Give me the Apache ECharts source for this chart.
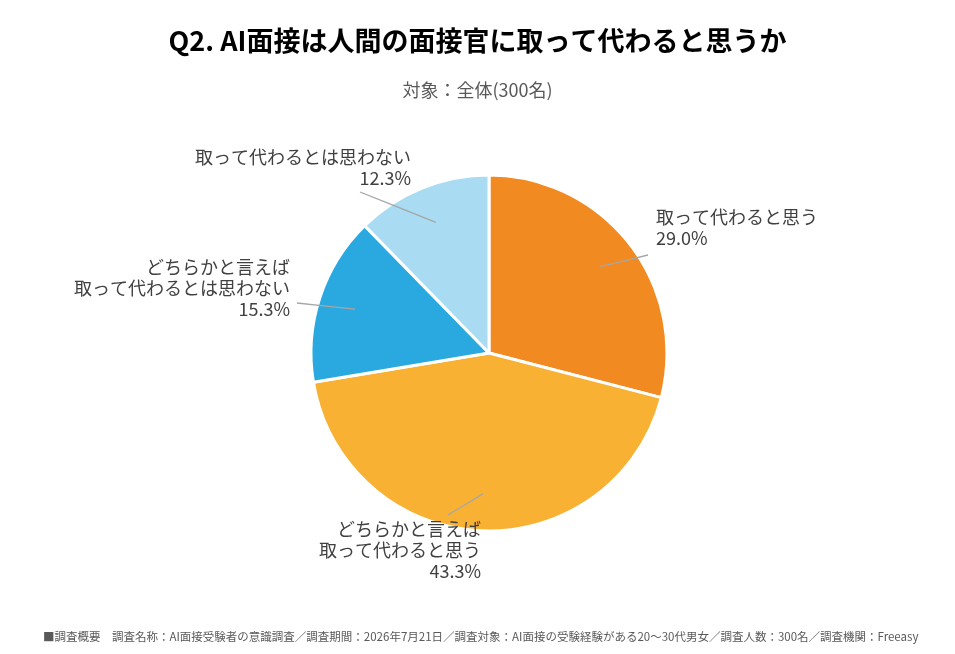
<!DOCTYPE html>
<html>
<head>
<meta charset="utf-8">
<script src="https://cdn.jsdelivr.net/npm/echarts@6/dist/echarts.min.js"></script>
<style>
  html, body { margin: 0; padding: 0; background: #fff; }
  #chart { width: 955px; height: 654px; }
</style>
</head>
<body>
<div id="chart"></div>
<script>
// data
const categories = [
  '取って代わると思う',
  'どちらかと言えば\n取って代わると思う',
  'どちらかと言えば\n取って代わるとは思わない',
  '取って代わるとは思わない'
];
const shares = [29.0, 43.3, 15.3, 12.3];
const colors = ['#F28A22', '#F8B133', '#2AA9E1', '#A9DCF3'];

// label block placement and where its leader line ends
const labelSpots = [
  { x: 656, y: 207, align: 'left',  lineEnd: [648, 255] },
  { x: 481, y: 519, align: 'right', lineEnd: [448, 515] },
  { x: 290, y: 257, align: 'right', lineEnd: [297, 303] },
  { x: 411, y: 147, align: 'right', lineEnd: [360, 192] }
];

const FONT = '"Noto Sans CJK JP", "Noto Sans", sans-serif';

const chart = echarts.init(document.getElementById('chart'));

const pieData = categories.map((name, i) => ({
  name,
  value: shares[i],
  itemStyle: { color: colors[i] }
}));
const labelData = categories.map((name, i) => ({ name, value: shares[i] }));

const option = {
  animation: false,
  title: [
    {
      text: 'Q2. AI面接は人間の面接官に取って代わると思うか',
      left: 'center',
      top: 22,
      textStyle: { fontFamily: FONT, fontSize: 27, fontWeight: 'bold', color: '#000' }
    },
    {
      text: '対象：全体(300名)',
      left: 'center',
      top: 76,
      textStyle: { fontFamily: FONT, fontSize: 18, fontWeight: 'normal', color: '#595959' }
    },
    {
      text: '■調査概要　調査名称：AI面接受験者の意識調査／調査期間：2026年7月21日／調査対象：AI面接の受験経験がある20～30代男女／調査人数：300名／調査機関：Freeasy',
      left: 38,
      top: 626,
      textStyle: { fontFamily: FONT, fontSize: 11.5, fontWeight: 'normal', color: '#595959' }
    }
  ],
  series: [
    {
      // visible slices
      type: 'pie',
      z: 2,
      center: [489, 353],
      radius: 178,
      startAngle: 90,
      clockwise: true,
      silent: true,
      label: { show: false },
      labelLine: { show: false },
      itemStyle: { borderColor: '#fff', borderWidth: 3 },
      data: pieData
    },
    {
      // invisible inner pie, only carries labels and leader lines
      type: 'pie',
      z: 4,
      center: [489, 353],
      radius: 141,
      startAngle: 90,
      clockwise: true,
      silent: true,
      itemStyle: { color: 'rgba(0,0,0,0)', borderWidth: 0 },
      label: {
        show: true,
        position: 'outside',
        fontFamily: FONT,
        fontSize: 18,
        lineHeight: 21,
        color: '#404040',
        formatter: (p) => p.name + '\n' + p.value.toFixed(1) + '%'
      },
      labelLine: {
        show: true,
        showAbove: true,
        length: 10,
        length2: 0,
        lineStyle: { color: '#A6A6A6', width: 1.3 }
      },
      labelLayout: (params) => {
        const s = labelSpots[params.dataIndex];
        const start = params.labelLinePoints[0];
        const end = s.lineEnd;
        const mid = [(start[0] + end[0]) / 2, (start[1] + end[1]) / 2];
        return {
          x: s.x, y: s.y, align: s.align, verticalAlign: 'top', moveOverlap: false,
          labelLinePoints: [start, mid, end]
        };
      },
      data: labelData
    }
  ]
};

chart.setOption(option);
</script>
</body>
</html>
